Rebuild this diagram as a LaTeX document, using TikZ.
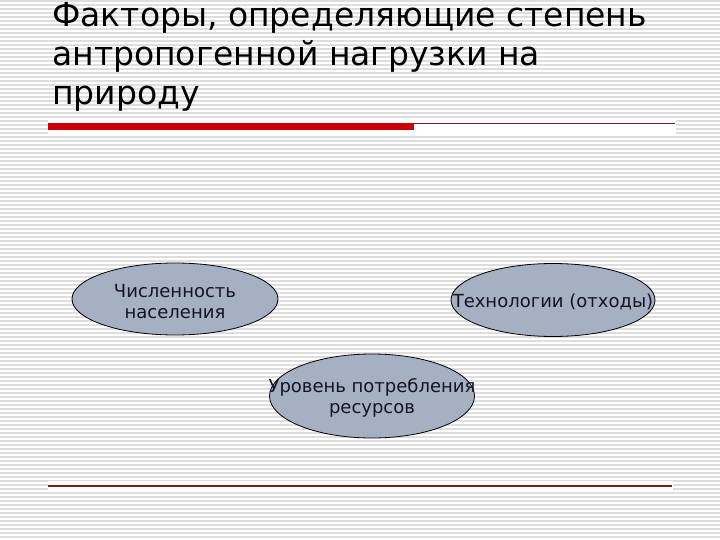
\documentclass[tikz,border=0pt]{standalone}
\usepackage{fontspec}
\setmainfont{DejaVu Sans}
\usetikzlibrary{shapes.geometric}
\definecolor{stripec}{RGB}{222,222,222}
\definecolor{ellfill}{RGB}{165,177,194}
\definecolor{titlered}{RGB}{204,0,0}
\definecolor{thinred}{RGB}{120,30,30}
\definecolor{elltext}{RGB}{20,20,35}
\tikzset{
  stripe/.style={draw=stripec, line width=1.3pt},
  factor/.style={ellipse, draw=black, line width=0.8pt, fill=ellfill, inner sep=0pt},
  factortext/.style={inner sep=0pt, text=elltext, align=center, font=\fontsize{18}{21}\selectfont},
  titletext/.style={anchor=base west, inner sep=0pt, font=\fontsize{33}{39}\selectfont, text=black}
}
\begin{document}
\begin{tikzpicture}[x=1pt,y=-1pt]
\useasboundingbox (0,0) rectangle (720,540);
\fill[white] (0,0) rectangle (720,540);
\foreach \yy in {1,5,...,539} \draw[stripe] (0,\yy) -- (720,\yy);
% white bands behind rules
\fill[white] (48,118) rectangle (676,134);
\fill[white] (48,481) rectangle (673,492);
% title
\node[titletext] (t1) at (52,27) {Факторы, определяющие степень};
\node[titletext] (t2) at (52,66) {антропогенной нагрузки на};
\node[titletext] (t3) at (52,105) {природу};
% rules
\coordinate (r1a) at (48,127);
\coordinate (r1b) at (414,127);
\coordinate (r2a) at (414,123.5);
\coordinate (r2b) at (675,123.5);
\coordinate (r3a) at (48,486);
\coordinate (r3b) at (672,486);
\draw[thinred, line width=1pt] (r2a) -- (r2b);
\draw[titlered, line width=7pt] (r1a) -- (r1b);
\draw[thinred, line width=1.2pt] (r3a) -- (r3b);
% ellipses
\node[factor, minimum width=206pt, minimum height=72pt] (pop) at (175,299) {};
\node[factor, minimum width=204pt, minimum height=73pt] (tech) at (553,300) {};
\node[factor, minimum width=205pt, minimum height=84pt] (cons) at (372,396) {};
\node[factortext] (popt) at ([yshift=-3pt]pop.center) {Численность\\населения};
\node[factortext] (techt) at ([yshift=-2pt]tech.center) {Технологии (отходы)};
\node[factortext] (const) at ([yshift=-2pt]cons.center) {Уровень потребления\\ресурсов};
\end{tikzpicture}
\end{document}
